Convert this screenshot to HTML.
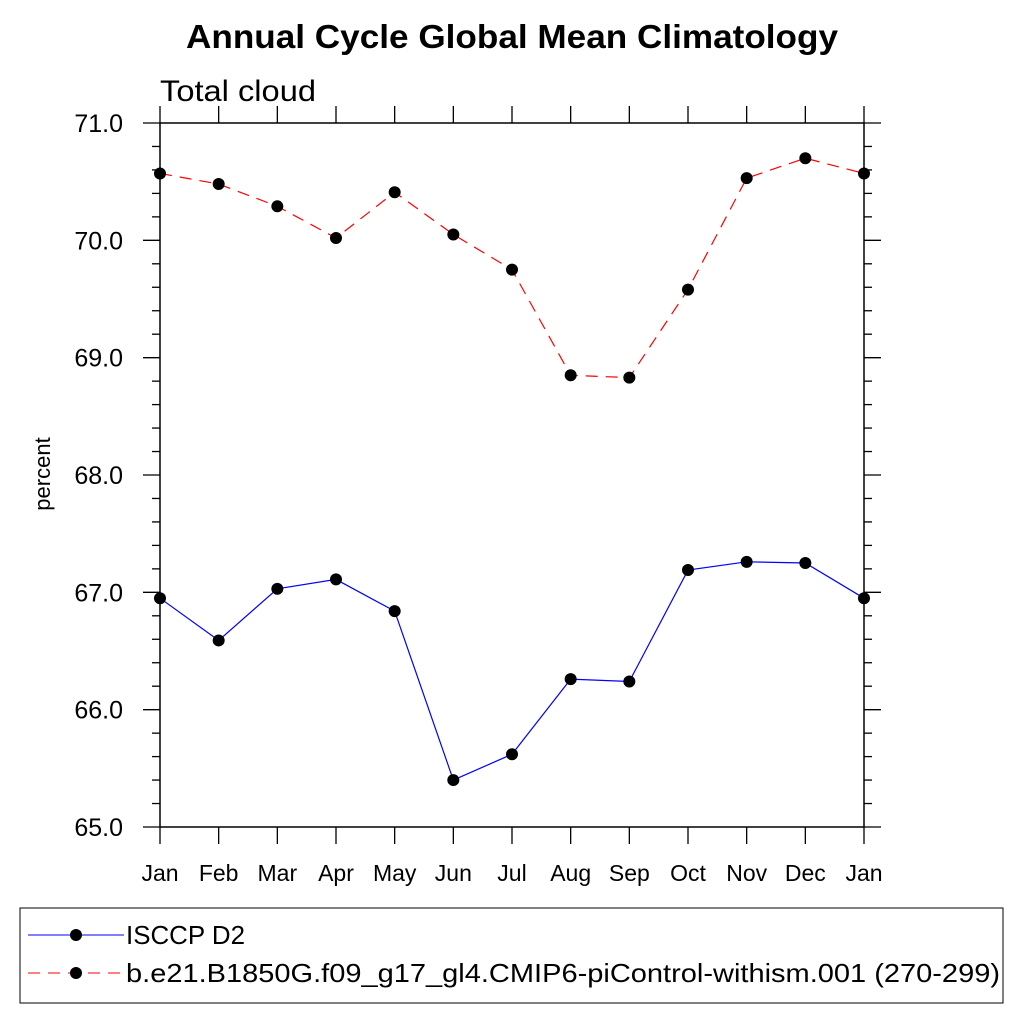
<!DOCTYPE html>
<html><head><meta charset="utf-8"><style>body{margin:0;background:#fff}svg text{font-family:"Liberation Sans",sans-serif}</style></head>
<body>
<svg id="c" width="1024" height="1024" xmlns="http://www.w3.org/2000/svg">
<text x="186" y="48" font-size="33" font-weight="bold" textLength="652" lengthAdjust="spacingAndGlyphs">Annual Cycle Global Mean Climatology</text>
<text x="160" y="101" font-size="30" textLength="156" lengthAdjust="spacingAndGlyphs">Total cloud</text>
<text transform="translate(50,474) rotate(-90)" font-size="22" text-anchor="middle">percent</text>
<g id="axes"></g>
<g id="series"></g>
<rect x="20" y="908" width="983" height="95" fill="none" stroke="#000" stroke-width="1"/>
<g>
<line x1="28" y1="935" x2="124" y2="935" stroke="#00f" stroke-width="1"/>
<circle cx="76" cy="935" r="6" fill="#000"/>
<text x="126" y="944" font-size="26" textLength="119" lengthAdjust="spacingAndGlyphs">ISCCP D2</text></g>
<g>
<line x1="28" y1="973" x2="124" y2="973" stroke="#f00" stroke-width="1" stroke-dasharray="12,8"/>
<circle cx="76" cy="973" r="6" fill="#000"/>
<text x="126" y="982" font-size="26" textLength="874" lengthAdjust="spacingAndGlyphs">b.e21.B1850G.f09_g17_gl4.CMIP6-piControl-withism.001 (270-299)</text></g>
</svg>
<script>
const months=["Jan","Feb","Mar","Apr","May","Jun","Jul","Aug","Sep","Oct","Nov","Dec","Jan"];
const isccp=[66.95,66.59,67.03,67.11,66.84,65.40,65.62,66.26,66.24,67.19,67.26,67.25,66.95];
const model=[70.57,70.48,70.29,70.02,70.41,70.05,69.75,68.85,68.83,69.58,70.53,70.70,70.57];
const yTicks=["65.0","66.0","67.0","68.0","69.0","70.0","71.0"];
const NS="http://www.w3.org/2000/svg";
const L=160,R=864,T=123,B=827,ymin=65,ymax=71;
const X=i=>L+(R-L)*i/(months.length-1);
const Y=v=>B-(v-ymin)/(ymax-ymin)*(B-T);
function mk(t,a,p){const e=document.createElementNS(NS,t);for(const k in a)e.setAttribute(k,a[k]);p.appendChild(e);return e;}
const ax=document.getElementById('axes'),se=document.getElementById('series');
const frame=mk('rect',{x:L,y:T,width:R-L,height:B-T,fill:'none',stroke:'#000','stroke-width':1.5},ax);


for(let v=ymin;v<=ymax+1e-6;v+=0.2){
  const major=Math.abs(v-Math.round(v))<1e-6,len=major?17:8,y=Y(v);
  mk('line',{x1:L-len,y1:y,x2:L,y2:y,stroke:'#000','stroke-width':1.3},ax);
  mk('line',{x1:R,y1:y,x2:R+len,y2:y,stroke:'#000','stroke-width':1.3},ax);
}
yTicks.forEach(s=>{const t=mk('text',{x:L-37,y:Y(parseFloat(s))+9,'font-size':25,'text-anchor':'end'},ax);t.textContent=s;

});
months.forEach((m,i)=>{const x=X(i);
  mk('line',{x1:x,y1:B,x2:x,y2:B+17,stroke:'#000','stroke-width':1.3},ax);
  mk('line',{x1:x,y1:T-17,x2:x,y2:T,stroke:'#000','stroke-width':1.3},ax);
  const t=mk('text',{x:x,y:881,'font-size':23,'text-anchor':'middle'},ax);t.textContent=m;
  
  });
function draw(vals,color,dash,name){
  const pl=mk('polyline',{points:vals.map((v,i)=>X(i)+','+Y(v)).join(' '),fill:'none',stroke:color,'stroke-width':1.2,'stroke-dasharray':dash},se);
  
  
  vals.forEach((v,i)=>{const c=mk('circle',{cx:X(i),cy:Y(v),r:6,fill:'#000'},se);
    
    });
}
draw(model,'#f00','12,8','model');
draw(isccp,'#00f','none','isccp');
</script>
</body></html>
